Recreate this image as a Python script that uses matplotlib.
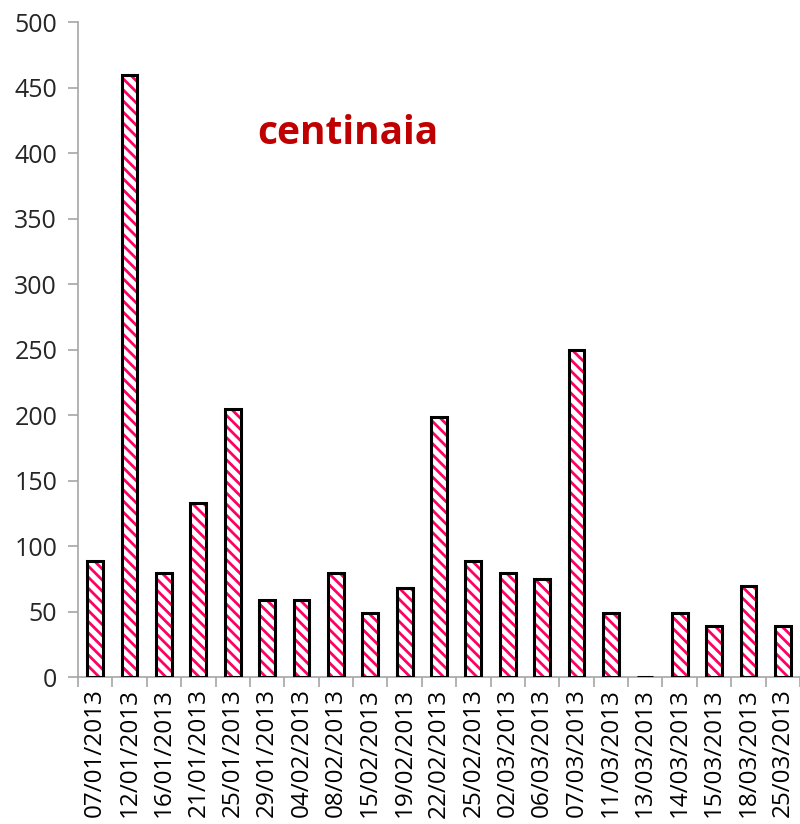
import numpy as np
import matplotlib
matplotlib.use("Agg")
import matplotlib.pyplot as plt

dates = ['07/01/2013', '12/01/2013', '16/01/2013', '21/01/2013', '25/01/2013',
         '29/01/2013', '04/02/2013', '08/02/2013', '15/02/2013', '19/02/2013',
         '22/02/2013', '25/02/2013', '02/03/2013', '06/03/2013', '07/03/2013',
         '11/03/2013', '13/03/2013', '14/03/2013', '15/03/2013', '18/03/2013',
         '25/03/2013']
values = [89, 460, 80, 133, 205, 59, 59, 80, 49, 68,
          199, 89, 80, 75, 250, 49, 0, 49, 39, 70, 39]
yticks = [0, 50, 100, 150, 200, 250, 300, 350, 400, 450, 500]

plt.rcParams['font.family'] = ['Open Sans', 'DejaVu Sans']
plt.rcParams['hatch.linewidth'] = 2.0

fig = plt.figure(figsize=(8, 8.24), dpi=100)
ax = fig.add_axes([0.0975, 0.178, 0.9025, 0.795])

x = np.arange(len(dates))
# hatch first (red stripes), then black outline on top
ax.bar(x, values, width=0.46, facecolor='white', edgecolor='#FF0066',
       hatch='\\\\\\', linewidth=0, zorder=2)
ax.bar(x, values, width=0.46, fill=False, edgecolor='black',
       linewidth=2.2, zorder=3)

ax.set_xlim(-0.5, len(dates) - 0.5)
ax.set_ylim(0, 500)
ax.set_yticks(yticks)
ax.set_xticks(x)
ax.set_xticklabels(dates, rotation=90)
ax.set_xticks(np.arange(len(dates) + 1) - 0.5, minor=True)

for s in ['top', 'right']:
    ax.spines[s].set_visible(False)
for s in ['left', 'bottom']:
    ax.spines[s].set_color('#A6A6A6')
    ax.spines[s].set_linewidth(1.2)

ax.tick_params(axis='y', length=7, width=1.2, color='#A6A6A6',
               labelsize=18, labelcolor='#262626', pad=8)
ax.tick_params(axis='x', which='major', length=0, labelsize=17.5,
               labelcolor='black', pad=8)
ax.tick_params(axis='x', which='minor', length=7, width=1.2, color='#A6A6A6')

ax.text(0.374, 0.83, 'centinaia', transform=ax.transAxes, ha='center',
        va='center', fontsize=28, fontweight='bold', color='#C00000')

fig.savefig('out.png', dpi=100)
